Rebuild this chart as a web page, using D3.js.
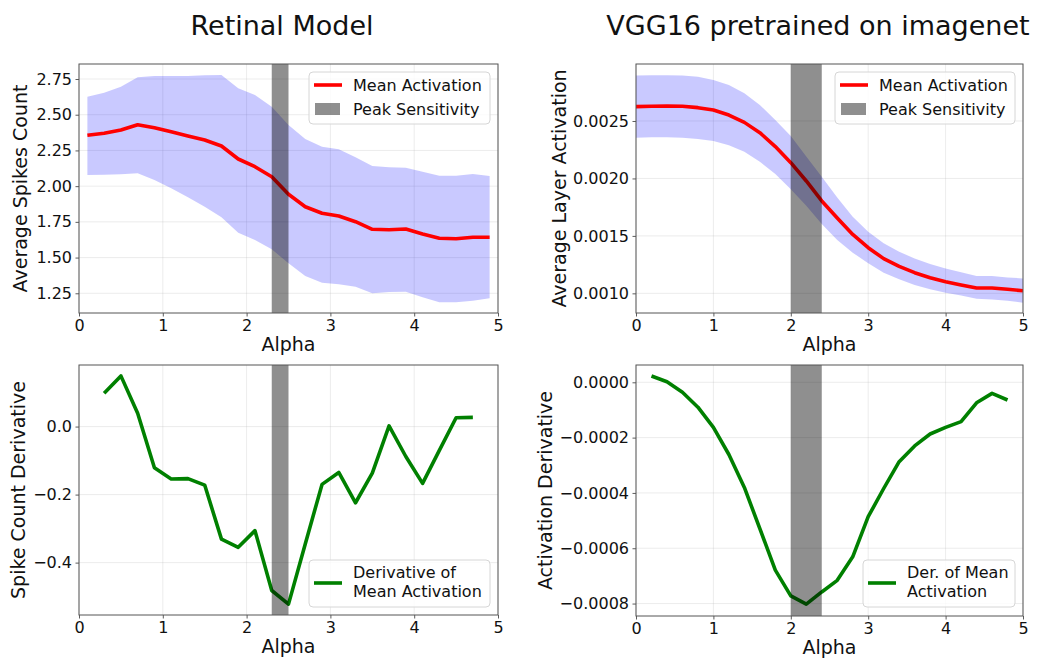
<!DOCTYPE html>
<html>
<head>
<meta charset="utf-8">
<script src="https://cdn.jsdelivr.net/npm/d3@7"></script>
<style>
  body { margin: 0; background: #fff; }
  svg text { font-family: "DejaVu Sans", sans-serif; fill: #111; }
</style>
</head>
<body>
<div id="chart"></div>
<script>
// Retinal model: mean spike count vs alpha
var retAlpha = [0.1, 0.3, 0.5, 0.7, 0.9, 1.1, 1.3, 1.5, 1.7, 1.9, 2.1, 2.3, 2.5,
                2.7, 2.9, 3.1, 3.3, 3.5, 3.7, 3.9, 4.1, 4.3, 4.5, 4.7, 4.9];
var retMean = [2.356, 2.370, 2.393, 2.430, 2.409, 2.381, 2.351, 2.323, 2.281, 2.190, 2.136, 2.066, 1.943,
               1.856, 1.810, 1.791, 1.751, 1.698, 1.695, 1.700, 1.665, 1.635, 1.632, 1.642, 1.642];
var retUpper = [2.626, 2.654, 2.696, 2.762, 2.771, 2.771, 2.771, 2.776, 2.778, 2.685, 2.638, 2.556, 2.428,
                2.330, 2.276, 2.258, 2.202, 2.141, 2.132, 2.129, 2.101, 2.073, 2.073, 2.085, 2.071];
var retLower = [2.078, 2.080, 2.083, 2.090, 2.043, 1.985, 1.922, 1.856, 1.782, 1.674, 1.623, 1.558, 1.460,
                1.371, 1.324, 1.313, 1.296, 1.250, 1.259, 1.261, 1.222, 1.187, 1.187, 1.198, 1.215];

// Retinal model derivative
var retDerAlpha = [0.3, 0.5, 0.7, 0.9, 1.1, 1.3, 1.5, 1.7, 1.9, 2.1, 2.3, 2.5,
                   2.7, 2.9, 3.1, 3.3, 3.5, 3.7, 3.9, 4.1, 4.3, 4.5, 4.7];
var retDer = [0.098, 0.149, 0.039, -0.121, -0.154, -0.153, -0.172, -0.331, -0.355, -0.306, -0.482, -0.522,
              -0.345, -0.170, -0.135, -0.224, -0.137, 0.002, -0.088, -0.167, -0.070, 0.026, 0.027];

// VGG16: mean layer activation vs alpha
var vggAlpha = [0, 0.2, 0.4, 0.6, 0.8, 1.0, 1.2, 1.4, 1.6, 1.8, 2.0, 2.2, 2.4,
                2.6, 2.8, 3.0, 3.2, 3.4, 3.6, 3.8, 4.0, 4.2, 4.4, 4.6, 4.8, 5.0];
var vggMean = [0.002625, 0.002628, 0.002630, 0.002628, 0.002616, 0.002596, 0.002552, 0.002488, 0.002398,
               0.002277, 0.002137, 0.001978, 0.001804, 0.001656, 0.001513, 0.001397, 0.001302, 0.001235,
               0.001180, 0.001136, 0.001101, 0.001072, 0.001046, 0.001046, 0.001035, 0.001023];
var vggUpper = [0.002895, 0.002898, 0.002898, 0.002895, 0.002886, 0.002857, 0.002813, 0.002741, 0.002639,
                0.002509, 0.002370, 0.002190, 0.002015, 0.001835, 0.001667, 0.001537, 0.001435, 0.001362,
                0.001304, 0.001255, 0.001217, 0.001183, 0.001151, 0.001151, 0.001139, 0.001130];
var vggLower = [0.002355, 0.002358, 0.002358, 0.002355, 0.002343, 0.002326, 0.002288, 0.002233, 0.002146,
                0.002039, 0.001905, 0.001763, 0.001603, 0.001464, 0.001354, 0.001261, 0.001180, 0.001122,
                0.001072, 0.001035, 0.001006, 0.000982, 0.000953, 0.000947, 0.000936, 0.000918];

// VGG16 derivative
var vggDerAlpha = [0.2, 0.4, 0.6, 0.8, 1.0, 1.2, 1.4, 1.6, 1.8, 2.0, 2.2, 2.4,
                   2.6, 2.8, 3.0, 3.2, 3.4, 3.6, 3.8, 4.0, 4.2, 4.4, 4.6, 4.8];
var vggDer = [0.000023, 0.000002, -0.000036, -0.000090, -0.000163, -0.000261, -0.000380, -0.000529,
              -0.000679, -0.000772, -0.000802, -0.000758, -0.000716, -0.000631, -0.000486, -0.000384,
              -0.000287, -0.000230, -0.000187, -0.000163, -0.000142, -0.000074, -0.000040, -0.000064];

// peak sensitivity spans
var retPeak = [2.3, 2.5];
var vggPeak = [2.0, 2.4];

// tick labels
var xTicks = [0, 1, 2, 3, 4, 5];
var retTicks = [1.25, 1.50, 1.75, 2.00, 2.25, 2.50, 2.75];
var vggTicks = [0.0010, 0.0015, 0.0020, 0.0025];
var retDerTicks = [-0.4, -0.2, 0.0];
var vggDerTicks = [-0.0008, -0.0006, -0.0004, -0.0002, 0.0];

var svg = d3.select("#chart")
    .append("svg")
    .attr("width", 1038)
    .attr("height", 660);

// titles
svg.append("text")
    .attr("x", 282).attr("y", 35)
    .attr("text-anchor", "middle")
    .attr("font-size", 27)
    .text("Retinal Model");

svg.append("text")
    .attr("x", 818).attr("y", 35)
    .attr("text-anchor", "middle")
    .attr("font-size", 27)
    .text("VGG16 pretrained on imagenet");

function minus(s) { return s.replace("-", "\u2212"); }

function drawPanel(p) {
    var g = svg.append("g");
    var x = d3.scaleLinear().domain([0, 5]).range([p.left, p.right]);
    var y = d3.scaleLinear().domain(p.yDomain).range([p.bottom, p.top]);

    // grid
    g.append("g").selectAll("line").data(xTicks).enter().append("line")
        .attr("x1", d => x(d)).attr("x2", d => x(d))
        .attr("y1", p.top).attr("y2", p.bottom)
        .attr("stroke", "#b0b0b0").attr("stroke-opacity", 0.3).attr("stroke-width", 0.8);
    g.append("g").selectAll("line").data(p.yTicks).enter().append("line")
        .attr("x1", p.left).attr("x2", p.right)
        .attr("y1", d => y(d)).attr("y2", d => y(d))
        .attr("stroke", "#b0b0b0").attr("stroke-opacity", 0.3).attr("stroke-width", 0.8);

    var clipId = "clip" + p.id;
    svg.append("clipPath").attr("id", clipId).append("rect")
        .attr("x", p.left).attr("y", p.top)
        .attr("width", p.right - p.left).attr("height", p.bottom - p.top);
    var plot = g.append("g").attr("clip-path", "url(#" + clipId + ")");

    // std band
    if (p.upper) {
        var area = d3.area()
            .x((d, i) => x(p.xs[i]))
            .y0((d, i) => y(p.lower[i]))
            .y1((d, i) => y(p.upper[i]));
        plot.append("path")
            .datum(p.xs)
            .attr("d", area)
            .attr("fill", "blue")
            .attr("fill-opacity", 0.21);
    }

    // line
    var line = d3.line()
        .x((d, i) => x(p.xs[i]))
        .y((d, i) => y(d));
    plot.append("path")
        .datum(p.ys)
        .attr("d", line)
        .attr("fill", "none")
        .attr("stroke", p.color)
        .attr("stroke-width", 3.6)
        .attr("stroke-linejoin", "round");

    // peak sensitivity band
    plot.append("rect")
        .attr("x", x(p.peak[0]))
        .attr("y", p.top)
        .attr("width", x(p.peak[1]) - x(p.peak[0]))
        .attr("height", p.bottom - p.top)
        .attr("fill", "black")
        .attr("fill-opacity", 0.44);

    // axes
    var xAxis = g.append("g")
        .attr("transform", "translate(0," + p.bottom + ")")
        .call(d3.axisBottom(x).tickValues(xTicks).tickFormat(d3.format("d")).tickSizeInner(3.5).tickSizeOuter(0).tickPadding(3.5));
    var yAxis = g.append("g")
        .attr("transform", "translate(" + p.left + ",0)")
        .call(d3.axisLeft(y).tickValues(p.yTicks).tickFormat(d => minus(p.fmt(d))).tickSizeInner(3.5).tickSizeOuter(0).tickPadding(3.5));
    [xAxis, yAxis].forEach(a => {
        a.select(".domain").remove();
        a.selectAll(".tick line").attr("stroke", "#333").attr("stroke-width", 0.8);
        a.selectAll(".tick text").attr("font-size", 16).attr("fill", "#111")
            .attr("font-family", "DejaVu Sans, sans-serif");
    });

    // spines
    g.append("rect")
        .attr("x", p.left).attr("y", p.top)
        .attr("width", p.right - p.left).attr("height", p.bottom - p.top)
        .attr("fill", "none")
        .attr("stroke", "#555")
        .attr("stroke-width", 1);

    // axis labels
    g.append("text")
        .attr("x", (p.left + p.right) / 2).attr("y", p.bottom + 38)
        .attr("text-anchor", "middle")
        .attr("font-size", 19)
        .text("Alpha");
    g.append("text")
        .attr("transform", "translate(" + p.yLabelX + "," + ((p.top + p.bottom) / 2) + ") rotate(-90)")
        .attr("text-anchor", "middle")
        .attr("font-size", 19)
        .text(p.yLabel);

    // legend
    var lg = g.append("g").attr("transform", "translate(" + p.legend.x + "," + p.legend.y + ")");
    lg.append("rect")
        .attr("width", p.legend.w).attr("height", p.legend.h)
        .attr("rx", 4)
        .attr("fill", "white").attr("fill-opacity", 0.8)
        .attr("stroke", "#d6d6d6");
    if (p.legend.two) {
        lg.append("line")
            .attr("x1", 5).attr("x2", 33).attr("y1", 13).attr("y2", 13)
            .attr("stroke", p.color).attr("stroke-width", 3.6);
        lg.append("text").attr("x", 44).attr("y", 19).attr("font-size", 16).text(p.legend.labels[0]);
        lg.append("rect")
            .attr("x", 6).attr("y", 31).attr("width", 25).attr("height", 12)
            .attr("fill", "black").attr("fill-opacity", 0.44);
        lg.append("text").attr("x", 44).attr("y", 43).attr("font-size", 16).text(p.legend.labels[1]);
    } else {
        lg.append("line")
            .attr("x1", 5).attr("x2", 33).attr("y1", 23).attr("y2", 23)
            .attr("stroke", p.color).attr("stroke-width", 3.6);
        lg.append("text").attr("x", 44).attr("y", 18).attr("font-size", 16).text(p.legend.labels[0]);
        lg.append("text").attr("x", 44).attr("y", 37).attr("font-size", 16).text(p.legend.labels[1]);
    }
}

// top left: retinal mean
drawPanel({
    id: 1, left: 79, right: 498, top: 64, bottom: 313,
    yDomain: [1.112, 2.855], yTicks: retTicks, fmt: d3.format(".2f"),
    xs: retAlpha, ys: retMean, upper: retUpper, lower: retLower,
    color: "red", peak: retPeak,
    yLabel: "Average Spikes Count", yLabelX: 27,
    legend: { x: 309, y: 72, w: 181, h: 52, two: true, labels: ["Mean Activation", "Peak Sensitivity"] }
});

// top right: vgg mean
drawPanel({
    id: 2, left: 636, right: 1023, top: 64, bottom: 313,
    yDomain: [0.000829, 0.002996], yTicks: vggTicks, fmt: d3.format(".4f"),
    xs: vggAlpha, ys: vggMean, upper: vggUpper, lower: vggLower,
    color: "red", peak: vggPeak,
    yLabel: "Average Layer Activation", yLabelX: 566,
    legend: { x: 835, y: 72, w: 180, h: 52, two: true, labels: ["Mean Activation", "Peak Sensitivity"] }
});

// bottom left: retinal derivative
drawPanel({
    id: 3, left: 79, right: 498, top: 365, bottom: 615,
    yDomain: [-0.554, 0.181], yTicks: retDerTicks, fmt: d3.format(".1f"),
    xs: retDerAlpha, ys: retDer,
    color: "green", peak: retPeak,
    yLabel: "Spike Count Derivative", yLabelX: 25,
    legend: { x: 309, y: 560, w: 181, h: 47, two: false, labels: ["Derivative of", "Mean Activation"] }
});

// bottom right: vgg derivative
drawPanel({
    id: 4, left: 636, right: 1023, top: 365, bottom: 616,
    yDomain: [-0.000845, 0.0000626], yTicks: vggDerTicks, fmt: d3.format(".4f"),
    xs: vggDerAlpha, ys: vggDer,
    color: "green", peak: vggPeak,
    yLabel: "Activation Derivative", yLabelX: 552,
    legend: { x: 863, y: 560, w: 152, h: 47, two: false, labels: ["Der. of Mean", "Activation"] }
});
</script>
</body>
</html>
